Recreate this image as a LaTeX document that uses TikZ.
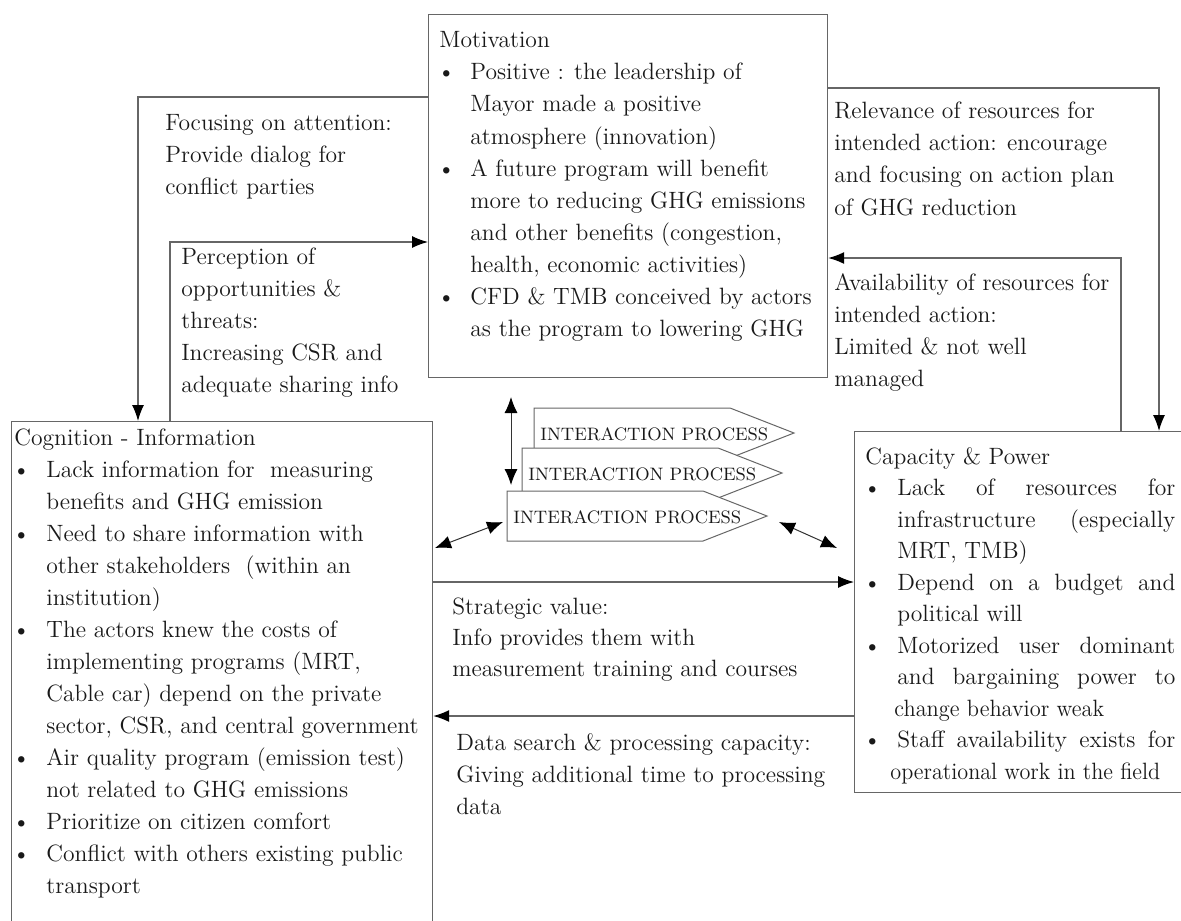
\documentclass[tikz,border=0pt]{standalone}
\usepackage{graphicx}
\usepackage{tikz}
\usetikzlibrary{arrows.meta, positioning}

\newcommand{\bul}{\hspace*{-1pt}\textbullet}

\begin{document}
\begin{tikzpicture}[
  x=0.5pt, y=-0.5pt,
  font=\fontsize{11.8}{16}\selectfont,
  panel/.style={draw=black!60, line width=0.6pt, inner sep=0pt, anchor=north west},
  paneltext/.style={anchor=base west, inner sep=0pt, text=black!90},
  link/.style={draw=black!60, line width=0.6pt, -{Latex[length=8pt, width=6pt, color=black]}},
  dbl/.style={draw=black!80, line width=0.5pt, {Latex[length=8pt, width=6.5pt, color=black]}-{Latex[length=8pt, width=6.5pt, color=black]}},
  procshape/.style={draw=black!60, line width=0.5pt, fill=white},
  proctext/.style={font=\fontsize{9}{11}\selectfont, inner sep=0pt, anchor=west, text=black!90},
]
\useasboundingbox (0,0) rectangle (1181,920);
\clip (0,0) rectangle (1181,920);
\fill[white] (0,0) rectangle (1181,920);

% Boxes
\node[panel, minimum width=199.5pt, minimum height=181.5pt] (motiv) at (428,14) {};
\node[panel, minimum width=210.5pt, minimum height=255pt] (cogn) at (11,421) {};
\node[panel, minimum width=168pt, minimum height=180.5pt] (capac) at (854,431) {};

% Box texts
\node[paneltext] (motivtext) at (439,48) {%
\begin{tabular}[t]{@{}p{15.5pt}@{}l@{}}
\multicolumn{2}{@{}l@{}}{Motivation}\\
\bul & Positive : the leadership of\\
 & Mayor made a positive\\
 & atmosphere (innovation)\\
\bul & A future program will benefit\\
 & more to reducing GHG emissions\\
 & and other benefits (congestion,\\
 & health, economic activities)\\
\bul & CFD \& TMB conceived by actors\\
 & as the program to lowering GHG
\end{tabular}};

\node[paneltext] (cogntext) at (14,445) {%
\begin{tabular}[t]{@{}p{16pt}@{}l@{}}
\multicolumn{2}{@{}l@{}}{Cognition - Information}\\
\bul & Lack information for~ measuring\\
 & benefits and GHG emission\\
\bul & Need to share information with\\
 & other stakeholders~ (within an\\
 & institution)\\
\bul & The actors knew the costs of\\
 & implementing programs (MRT,\\
 & Cable car) depend on the private\\
 & sector, CSR, and central government\\
\bul & Air quality program (emission test)\\
 & not related to GHG emissions\\
\bul & Prioritize on citizen comfort\\
\bul & Conflict with others existing public\\
 & transport
\end{tabular}};

\node[paneltext, font=\fontsize{11.8}{15.75}\selectfont] (capactext) at (865,464) {%
\begin{tabular}[t]{@{}p{16pt}@{}l@{}}
\multicolumn{2}{@{}l@{}}{Capacity \& Power}\\
\bul & \makebox[139pt][s]{Lack of resources for}\\
 & \makebox[139pt][s]{infrastructure (especially}\\
 & MRT, TMB)\\
\bul & \makebox[139pt][s]{Depend on a budget and}\\
 & political will\\
\bul & \makebox[139pt][s]{Motorized user dominant}\\
 & \makebox[139pt][s]{and bargaining power to}\\
 & \hspace*{-1.5pt}\scalebox{0.95}[1]{change behavior weak}\\
\bul & \makebox[139pt][s]{Staff availability exists for}\\
 & \hspace*{-3.5pt}\scalebox{0.94}[1]{operational work in the field}
\end{tabular}};

% Interaction process
\foreach \n/\x/\y in {1/534/408, 2/522/448, 3/507/491}{
  \draw[procshape] (\x,\y) -- ++(196,0) -- ++(64,25) -- ++(-64,25) -- ++(-196,0) -- cycle;
  \node[proctext] (proc\n) at ({\x+6},{\y+26}) {INTERACTION PROCESS};
}

% Connectors
\draw[link] ([yshift=-41.5pt]motiv.north west) -| ([xshift=63.5pt]cogn.north west);
\draw[link] ([xshift=79.5pt]cogn.north west) |- ([yshift=-114pt]motiv.north west);
\draw[link] ([yshift=-37pt]motiv.north east) -| ([xshift=152.5pt]capac.north west);
\draw[link] ([xshift=133.5pt]capac.north west) |- ([yshift=-122pt]motiv.north east);
\draw[link] ([yshift=-80.5pt]cogn.north east) -- ([yshift=-75.5pt]capac.north west);
\draw[link] ([yshift=-142.5pt]capac.north west) -- ([yshift=-147.5pt]cogn.north east);

% Double arrows
\coordinate (vtop) at (511,397);
\coordinate (vbot) at (511,485);
\coordinate (lend) at (435,548);
\coordinate (lstart) at (503,522);
\coordinate (rstart) at (779,522);
\coordinate (rend) at (837,548);
\draw[dbl] (vtop) -- (vbot);
\draw[dbl] (lend) -- (lstart);
\draw[dbl] (rstart) -- (rend);

% Labels
\node[paneltext] (focus) at (165,130) {\begin{tabular}[t]{@{}l@{}}
Focusing on attention:\\ Provide dialog for\\ conflict parties\end{tabular}};
\node[paneltext] (percep) at (181,264) {\begin{tabular}[t]{@{}l@{}}
Perception of\\ opportunities \&\\ threats:\\ Increasing CSR and\\ adequate sharing info\end{tabular}};
\node[paneltext] (relev) at (834,119) {\begin{tabular}[t]{@{}l@{}}
Relevance of resources for\\ intended action: encourage\\ and focusing on action plan\\ of GHG reduction\end{tabular}};
\node[paneltext] (avail) at (834,290) {\begin{tabular}[t]{@{}l@{}}
Availability of resources for\\ intended action:\\ Limited \& not well\\ managed\end{tabular}};
\node[paneltext, font=\fontsize{11.8}{15.5}\selectfont] (strat) at (452,614) {\begin{tabular}[t]{@{}l@{}}
Strategic value:\\ Info provides them with\\ measurement training and courses\end{tabular}};
\node[paneltext] (datasearch) at (456,750) {\begin{tabular}[t]{@{}l@{}}
Data search \& processing capacity:\\ Giving additional time to processing\\ data\end{tabular}};
\end{tikzpicture}
\end{document}
